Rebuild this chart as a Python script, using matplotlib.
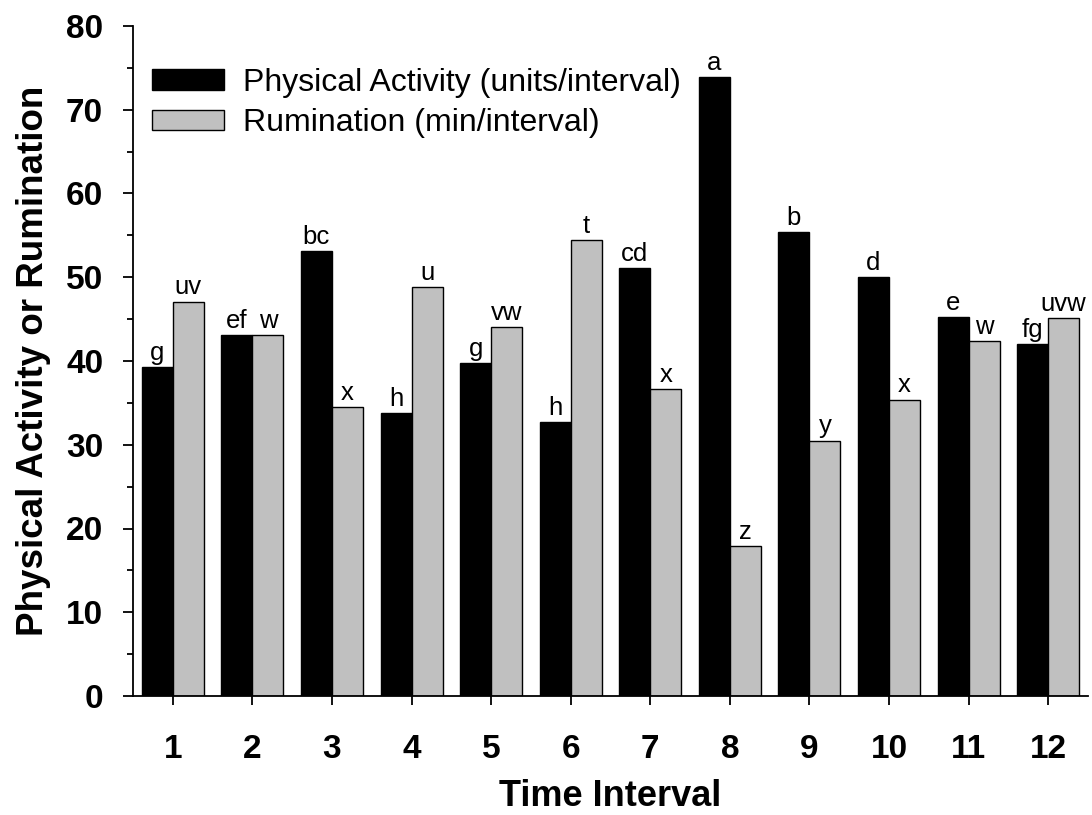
import matplotlib
matplotlib.use('Agg')
import matplotlib.pyplot as plt
import numpy as np
from matplotlib.ticker import MultipleLocator

# values
intervals = [1, 2, 3, 4, 5, 6, 7, 8, 9, 10, 11, 12]
activity = [39.3, 43.1, 53.1, 33.75, 39.8, 32.75, 51.1, 73.95, 55.4, 50.0, 45.3, 42.07]
rumination = [47.1, 43.1, 34.5, 48.8, 44.1, 54.4, 36.7, 17.9, 30.5, 35.4, 42.35, 45.1]
activity_letters = ['g', 'ef', 'bc', 'h', 'g', 'h', 'cd', 'a', 'b', 'd', 'e', 'fg']
rumination_letters = ['uv', 'w', 'x', 'u', 'vw', 't', 'x', 'z', 'y', 'x', 'w', 'uvw']

plt.rcParams['font.family'] = ['Liberation Sans', 'DejaVu Sans']

fig = plt.figure(figsize=(10.92, 8.15), dpi=100)
ax = fig.add_axes([133 / 1092, 1 - 696 / 815, 955 / 1092, 670 / 815])

x = np.array(intervals)
w = 0.39
b1 = ax.bar(x - w / 2, activity, w, color='black', edgecolor='black', linewidth=1,
            label='Physical Activity (units/interval)')
b2 = ax.bar(x + w / 2, rumination, w, color='#c0c0c0', edgecolor='black', linewidth=1,
            label='Rumination (min/interval)')

for rect, lab in zip(b1, activity_letters):
    ax.annotate(lab, (rect.get_x() + rect.get_width() / 2, rect.get_height()),
                xytext=(0, 1.5), textcoords='offset points', ha='center', va='bottom', fontsize=18.5)
for rect, lab in zip(b2, rumination_letters):
    ax.annotate(lab, (rect.get_x() + rect.get_width() / 2, rect.get_height()),
                xytext=(0, 1.5), textcoords='offset points', ha='center', va='bottom', fontsize=18.5)

ax.set_xlim(0.5, 12.5)
ax.set_ylim(0, 80)
ax.set_xticks(intervals)
ax.yaxis.set_major_locator(MultipleLocator(10))
ax.yaxis.set_minor_locator(MultipleLocator(5))
for s in ['top', 'right']:
    ax.spines[s].set_visible(False)
for s in ['left', 'bottom']:
    ax.spines[s].set_linewidth(1.3)

ax.tick_params(axis='y', which='major', length=7.5, width=1.3, pad=14, labelsize=24)
ax.tick_params(axis='y', which='minor', length=4.5, width=1.3)
ax.tick_params(axis='x', which='major', length=6.5, width=1.3, pad=21, labelsize=24)
for t in ax.get_xticklabels() + ax.get_yticklabels():
    t.set_fontweight('bold')

ax.set_xlabel('Time Interval', fontsize=26, fontweight='bold', labelpad=10)
ax.set_ylabel('Physical Activity or Rumination', fontsize=26.5, fontweight='bold', labelpad=11)

ax.legend(loc='upper left', bbox_to_anchor=(0.02, (696 - 68) / 670), frameon=False,
          fontsize=23, handlelength=2.25, handleheight=0.62, handletextpad=0.6,
          labelspacing=0.32, borderpad=0, borderaxespad=0)

fig.savefig('out.png', dpi=100)
